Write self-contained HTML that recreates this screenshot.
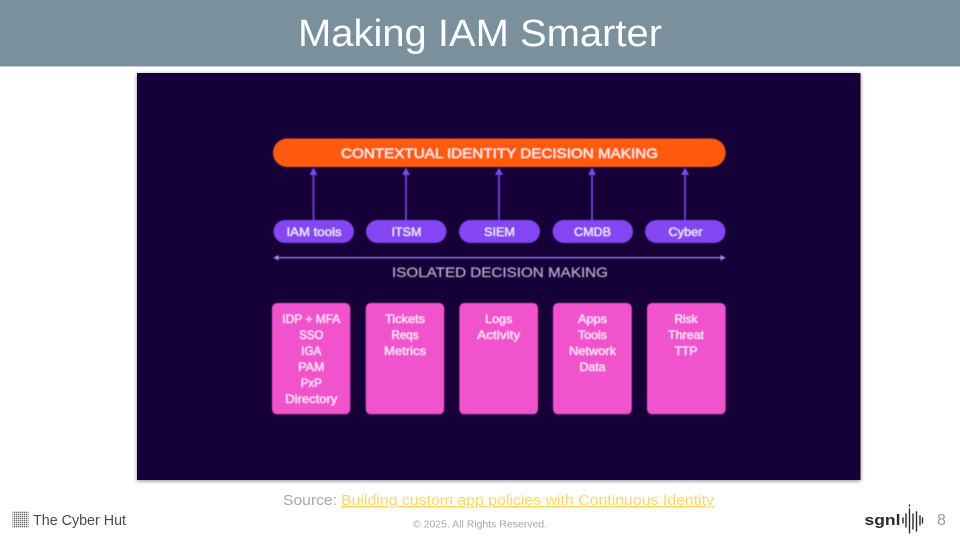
<!DOCTYPE html>
<html>
<head>
<meta charset="utf-8">
<style>
html,body{margin:0;padding:0;background:#fff;width:960px;height:540px;overflow:hidden}
svg{display:block;position:absolute;left:0;top:0}
text{font-family:"Liberation Sans",sans-serif}
.d text{stroke-width:.25px}
</style>
</head>
<body>
<svg width="960" height="540" viewBox="0 0 960 540" xmlns="http://www.w3.org/2000/svg">
<defs>
<filter id="s" x="-3%" y="-3%" width="106%" height="106%"><feDropShadow dx="0" dy="1" stdDeviation="2" flood-color="#000" flood-opacity=".45"/></filter>
<filter id="b" x="-5%" y="-5%" width="110%" height="110%"><feGaussianBlur stdDeviation="0.4"/></filter>
<filter id="b2" x="-10%" y="-10%" width="120%" height="120%"><feGaussianBlur stdDeviation="0.35"/></filter>
<pattern id="hut" width="2" height="2" patternUnits="userSpaceOnUse"><rect width="1.3" height="1.3" fill="#666"/></pattern>
</defs>
<rect width="960" height="540" fill="#fff"/>
<rect width="960" height="66.5" fill="#7a909c"/>
<text x="298" y="46" font-size="38" fill="#fff" textLength="364" lengthAdjust="spacingAndGlyphs">Making IAM Smarter</text>

<rect x="137" y="73" width="723.5" height="407" fill="#190038" filter="url(#s)"/>

<g class="d" filter="url(#b)">
<rect x="273" y="138.5" width="452.7" height="28.5" rx="14.2" fill="#ff5a0a"/>
<text x="341" y="158" font-size="14" stroke="#fff0e6" fill="#fff0e6" textLength="317" lengthAdjust="spacingAndGlyphs">CONTEXTUAL IDENTITY DECISION MAKING</text>

<g stroke="#7f47ee" stroke-width="1.6">
<line x1="313.5" y1="174" x2="313.5" y2="220"/>
<line x1="406" y1="174" x2="406" y2="220"/>
<line x1="499" y1="174" x2="499" y2="220"/>
<line x1="592" y1="174" x2="592" y2="220"/>
<line x1="685" y1="174" x2="685" y2="220"/>
</g>
<g fill="#7f47ee">
<polygon points="313.5,167.5 309.5,175 317.5,175"/>
<polygon points="406,167.5 402,175 410,175"/>
<polygon points="499,167.5 495,175 503,175"/>
<polygon points="592,167.5 588,175 596,175"/>
<polygon points="685,167.5 681,175 689,175"/>
</g>

<g fill="#8445f2">
<rect x="273.5" y="220" width="80.5" height="23" rx="11.5"/>
<rect x="366" y="220" width="80.5" height="23" rx="11.5"/>
<rect x="459" y="220" width="81" height="23" rx="11.5"/>
<rect x="552.5" y="220" width="80.5" height="23" rx="11.5"/>
<rect x="645" y="220" width="80.5" height="23" rx="11.5"/>
</g>
<g font-size="12" fill="#f0e8fc" stroke="#f0e8fc">
<text x="286.5" y="236" textLength="55" lengthAdjust="spacingAndGlyphs">IAM tools</text>
<text x="391.5" y="236" textLength="30" lengthAdjust="spacingAndGlyphs">ITSM</text>
<text x="484" y="236" textLength="31" lengthAdjust="spacingAndGlyphs">SIEM</text>
<text x="574" y="236" textLength="37" lengthAdjust="spacingAndGlyphs">CMDB</text>
<text x="668.5" y="236" textLength="34" lengthAdjust="spacingAndGlyphs">Cyber</text>
</g>

<line x1="275" y1="257.7" x2="724" y2="257.7" stroke="#9a75ea" stroke-width="1.4"/>
<polygon points="273.3,257.7 278.5,255 278.5,260.5" fill="#a98be8"/>
<polygon points="725.7,257.7 720.5,255 720.5,260.5" fill="#a98be8"/>
<text x="392" y="277" font-size="14" fill="#b6adc6" stroke="#b6adc6" textLength="216" lengthAdjust="spacingAndGlyphs">ISOLATED DECISION MAKING</text>

<g fill="#f052cc">
<rect x="272" y="303" width="78.3" height="111.3" rx="5"/>
<rect x="365.7" y="303" width="78.5" height="111.3" rx="5"/>
<rect x="459.3" y="303" width="78.7" height="111.3" rx="5"/>
<rect x="553" y="303" width="78.8" height="111.3" rx="5"/>
<rect x="647" y="303" width="78.7" height="111.3" rx="5"/>
</g>
<g font-size="12" fill="#fde8f8" stroke="#fde8f8" text-anchor="middle">
<text x="311.3" y="323" textLength="58" lengthAdjust="spacingAndGlyphs">IDP + MFA</text>
<text x="311.3" y="339" textLength="24" lengthAdjust="spacingAndGlyphs">SSO</text>
<text x="311.3" y="355" textLength="20" lengthAdjust="spacingAndGlyphs">IGA</text>
<text x="311.3" y="371" textLength="26" lengthAdjust="spacingAndGlyphs">PAM</text>
<text x="311.3" y="387" textLength="21" lengthAdjust="spacingAndGlyphs">PxP</text>
<text x="311.3" y="403" textLength="52" lengthAdjust="spacingAndGlyphs">Directory</text>

<text x="405" y="323" textLength="40" lengthAdjust="spacingAndGlyphs">Tickets</text>
<text x="405" y="339" textLength="27" lengthAdjust="spacingAndGlyphs">Reqs</text>
<text x="405" y="355" textLength="42" lengthAdjust="spacingAndGlyphs">Metrics</text>

<text x="498.7" y="323" textLength="27" lengthAdjust="spacingAndGlyphs">Logs</text>
<text x="498.7" y="339" textLength="43" lengthAdjust="spacingAndGlyphs">Activity</text>

<text x="592.5" y="323" textLength="29" lengthAdjust="spacingAndGlyphs">Apps</text>
<text x="592.5" y="339" textLength="29" lengthAdjust="spacingAndGlyphs">Tools</text>
<text x="592.5" y="355" textLength="47" lengthAdjust="spacingAndGlyphs">Network</text>
<text x="592.5" y="371" textLength="26" lengthAdjust="spacingAndGlyphs">Data</text>

<text x="686" y="323" textLength="23" lengthAdjust="spacingAndGlyphs">Risk</text>
<text x="686" y="339" textLength="36" lengthAdjust="spacingAndGlyphs">Threat</text>
<text x="686" y="355" textLength="23" lengthAdjust="spacingAndGlyphs">TTP</text>
</g>
</g>

<text x="283" y="505" font-size="15" fill="#a8a8a8" textLength="54" lengthAdjust="spacingAndGlyphs">Source:</text>
<text x="341" y="505" font-size="15" fill="#ffd666" textLength="373" lengthAdjust="spacingAndGlyphs" text-decoration="underline">Building custom app policies with Continuous Identity</text>
<text x="413" y="527.5" font-size="10.5" fill="#a8a8a8" textLength="134" lengthAdjust="spacingAndGlyphs">© 2025. All Rights Reserved.</text>

<rect x="12.5" y="511" width="16" height="17" fill="url(#hut)" filter="url(#b2)"/>
<text x="33" y="525" font-size="15" fill="#4a4a4a" textLength="93" lengthAdjust="spacingAndGlyphs">The Cyber Hut</text>

<g filter="url(#b2)">
<text x="864.5" y="525" font-size="14.5" font-weight="bold" fill="#2a2a30" textLength="36" lengthAdjust="spacingAndGlyphs">sgnl</text>
<g stroke="#2a2a30" stroke-width="1.4" stroke-linecap="round">
<line x1="903" y1="518" x2="903" y2="523"/>
<line x1="906" y1="514" x2="906" y2="527"/>
<line x1="909.5" y1="509" x2="909.5" y2="533"/>
<line x1="913" y1="514" x2="913" y2="529"/>
<line x1="916.5" y1="512" x2="916.5" y2="531"/>
<line x1="920" y1="516" x2="920" y2="525"/>
<line x1="922.5" y1="518" x2="922.5" y2="523"/>
</g>
<line x1="909.5" y1="505" x2="909.5" y2="506" stroke="#2a2a30" stroke-width="1.4" stroke-linecap="round"/>
</g>
<text x="937" y="525" font-size="16" fill="#9a9a9a">8</text>
</svg>
</body>
</html>
